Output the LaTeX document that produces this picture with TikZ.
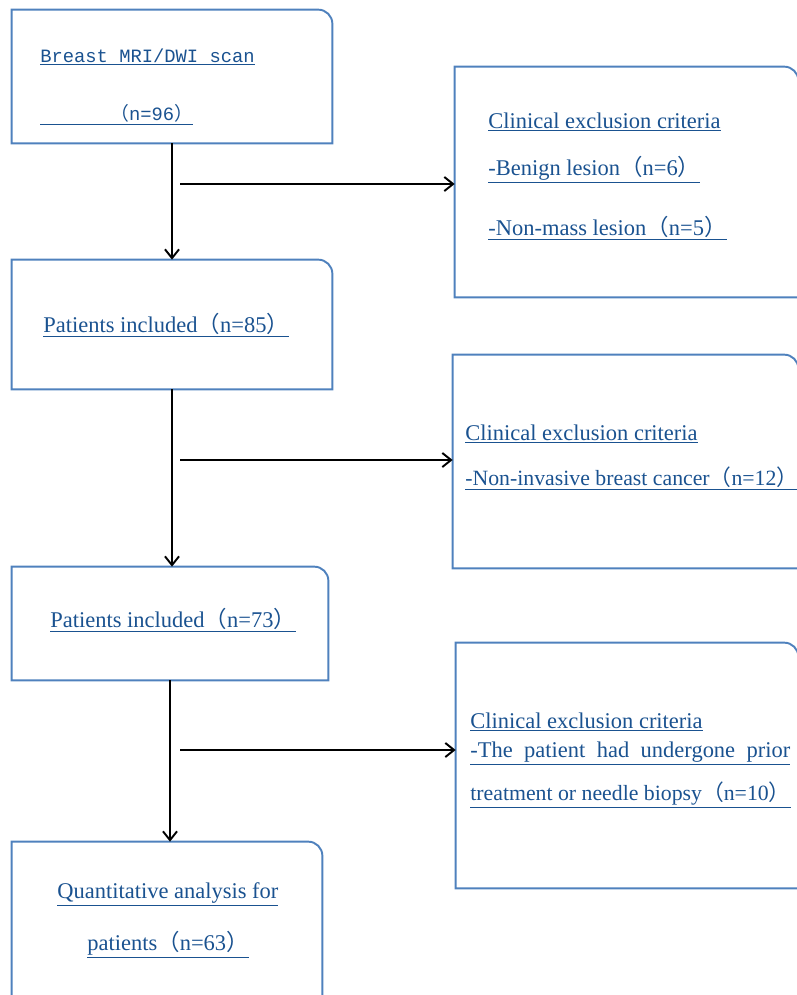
\documentclass[tikz,border=0pt]{standalone}
\usepackage{fontspec}
\setmainfont{Liberation Serif}
\newfontfamily\monofont{Liberation Mono}
\newfontfamily\cjk{Noto Sans CJK SC}
\usetikzlibrary{arrows.meta,fit}
\definecolor{txtblue}{HTML}{1A5290}
\definecolor{frameblue}{HTML}{4F81BD}
\newcommand{\lp}{{\cjk （}}
\newcommand{\rp}{{\cjk ）}}
\begin{document}
\begin{tikzpicture}[x=0.02cm,y=-0.02cm,
        box/.style={inner sep=0pt,draw=none},
        frame/.style={draw=frameblue,line width=1.1pt},
        lbl/.style={anchor=base west,inner sep=0pt,text=txtblue,font=\fontsize{12.8}{15}\selectfont},
        arr/.style={-{Straight Barb[length=5pt,width=8pt]},line width=1.1pt}]
    \useasboundingbox (0,0) rectangle (797,995);
    % left column
    \node[box,fit={(12,10) (332,143)}] (scan) {};
    \node[box,fit={(12,260) (332,389)}] (inc85) {};
    \node[box,fit={(12,567) (328,680)}] (inc73) {};
    \node[box,fit={(12,842) (322,1010)}] (quant) {};
    % exclusion boxes
    \node[box,fit={(455,67) (798,297)}] (exc1) {};
    \node[box,fit={(453,355) (798,568)}] (exc2) {};
    \node[box,fit={(456,643) (798,888)}] (exc3) {};
    \foreach \b in {scan,inc85,inc73,quant,exc1,exc2,exc3}
        \draw[frame] (\b.south west) -- (\b.north west) -- ([xshift=-8pt]\b.north east)
            arc[start angle=90,end angle=0,radius=8pt] -- (\b.south east) -- cycle;
    % texts
    \node[lbl,font=\monofont\fontsize{10.7}{13}\selectfont] (t1a) at (40,62) {\underline{Breast MRI/DWI scan}};
    \node[lbl,font=\monofont\fontsize{10.7}{13}\selectfont] (t1b) at (40,120) {\underline{\hspace{1.4cm}\lp n=96\rp}};
    \node[lbl] (t2) at (43,332) {\underline{Patients included\lp n=85\rp}};
    \node[lbl] (t3) at (50,627) {\underline{Patients included\lp n=73\rp}};
    \node[lbl] (t4a) at (57,898) {\underline{Quantitative analysis for}};
    \node[lbl] (t4b) at (87,950) {\underline{patients\lp n=63\rp}};
    \node[lbl] (e1a) at (488,128) {\underline{Clinical exclusion criteria}};
    \node[lbl] (e1b) at (488,175) {\underline{-Benign lesion\lp n=6\rp}};
    \node[lbl] (e1c) at (488,235) {\underline{-Non-mass lesion\lp n=5\rp}};
    \node[lbl] (e2a) at (465,440) {\underline{Clinical exclusion criteria}};
    \node[lbl,font=\fontsize{12.4}{15}\selectfont] (e2b) at (465,485) {\underline{-Non-invasive breast cancer\lp n=12\rp}};
    \node[lbl] (e3a) at (470,728) {\underline{Clinical exclusion criteria}};
    \node[lbl] (e3b) at (470,757) {\underline{\makebox[6.4cm][s]{-The patient had undergone prior}}};
    \node[lbl,font=\fontsize{12.4}{15}\selectfont] (e3c) at (470,800) {\underline{treatment or needle biopsy\lp n=10\rp}};
    % arrows
    \coordinate (b1) at (180,184);
    \coordinate (b2) at (180,460);
    \coordinate (b3) at (180,750);
    \draw[arr] (scan.south) -- (scan.south |- inc85.north);
    \draw[arr] (inc85.south) -- (inc85.south |- inc73.north);
    \draw[arr] (inc73.south) -- (inc73.south |- quant.north);
    \draw[arr] (b1) -- (b1 -| exc1.west);
    \draw[arr] (b2) -- (b2 -| exc2.west);
    \draw[arr] (b3) -- (b3 -| exc3.west);
\end{tikzpicture}
\end{document}
